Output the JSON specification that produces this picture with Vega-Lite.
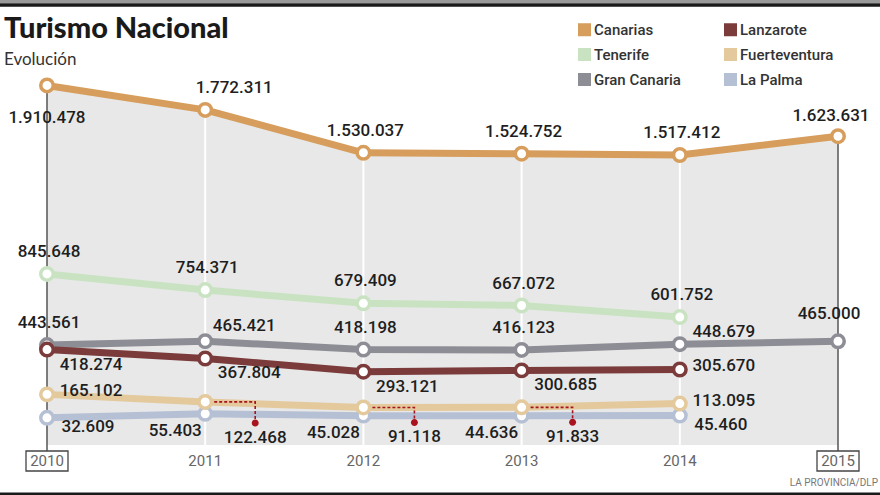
{
  "$schema": "https://vega.github.io/schema/vega-lite/v6.json",
  "width": 880,
  "height": 495,
  "autosize": {"type": "none"},
  "padding": 0,
  "background": "white",
  "config": {
    "view": {"stroke": null},
    "locale": {"number": {"decimal": ",", "thousands": ".", "grouping": [3], "currency": ["", " €"]}},
    "text": {"font": "Roboto", "fontSize": 17, "fontWeight": 500, "color": "#1e1e1e", "baseline": "middle", "align": "center"}
  },
  "title": {
    "text": "Turismo Nacional",
    "subtitle": "Evolución",
    "anchor": "start",
    "frame": "group",
    "offset": -68,
    "dx": 4,
    "font": "Lato",
    "fontSize": 29,
    "fontWeight": 900,
    "color": "#1a1a1a",
    "subtitleFont": "Lato",
    "subtitleFontSize": 17,
    "subtitleFontWeight": 400,
    "subtitleColor": "#333333",
    "subtitlePadding": 8
  },
  "data": {
    "values": [
      {"series": "La Palma", "year": 2010, "value": 32609},
      {"series": "La Palma", "year": 2011, "value": 55403},
      {"series": "La Palma", "year": 2012, "value": 45028},
      {"series": "La Palma", "year": 2013, "value": 44636},
      {"series": "La Palma", "year": 2014, "value": 45460},
      {"series": "Fuerteventura", "year": 2010, "value": 165102},
      {"series": "Fuerteventura", "year": 2011, "value": 122468},
      {"series": "Fuerteventura", "year": 2012, "value": 91118},
      {"series": "Fuerteventura", "year": 2013, "value": 91833},
      {"series": "Fuerteventura", "year": 2014, "value": 113095},
      {"series": "Gran Canaria", "year": 2010, "value": 443561},
      {"series": "Gran Canaria", "year": 2011, "value": 465421},
      {"series": "Gran Canaria", "year": 2012, "value": 418198},
      {"series": "Gran Canaria", "year": 2013, "value": 416123},
      {"series": "Gran Canaria", "year": 2014, "value": 448679},
      {"series": "Gran Canaria", "year": 2015, "value": 465000},
      {"series": "Lanzarote", "year": 2010, "value": 418274},
      {"series": "Lanzarote", "year": 2011, "value": 367804},
      {"series": "Lanzarote", "year": 2012, "value": 293121},
      {"series": "Lanzarote", "year": 2013, "value": 300685},
      {"series": "Lanzarote", "year": 2014, "value": 305670},
      {"series": "Tenerife", "year": 2010, "value": 845648},
      {"series": "Tenerife", "year": 2011, "value": 754371},
      {"series": "Tenerife", "year": 2012, "value": 679409},
      {"series": "Tenerife", "year": 2013, "value": 667072},
      {"series": "Tenerife", "year": 2014, "value": 601752},
      {"series": "Canarias", "year": 2010, "value": 1910478},
      {"series": "Canarias", "year": 2011, "value": 1772311},
      {"series": "Canarias", "year": 2012, "value": 1530037},
      {"series": "Canarias", "year": 2013, "value": 1524752},
      {"series": "Canarias", "year": 2014, "value": 1517412},
      {"series": "Canarias", "year": 2015, "value": 1623631}
    ]
  },
  "layer": [
    {
      "transform": [{"filter": "datum.series == 'Canarias'"}],
      "mark": {"type": "area", "color": "#e8e8e8", "opacity": 1},
      "encoding": {
        "x": {"field": "year", "type": "quantitative", "scale": {"domain": [2009.70291, 2015.26549], "nice": false, "zero": false}, "axis": null},
        "y": {"field": "value", "type": "quantitative", "scale": {"domain": [-403400, 2393200], "nice": false, "zero": false}, "axis": null},
        "y2": {"datum": -121000}
      }
    },
    {
      "transform": [{"filter": "datum.series == 'Canarias' && datum.year >= 2011 && datum.year <= 2014"}],
      "mark": {"type": "rule", "color": "white", "strokeWidth": 2},
      "encoding": {
        "x": {"field": "year", "type": "quantitative", "scale": {"domain": [2009.70291, 2015.26549], "nice": false, "zero": false}, "axis": null},
        "y": {"field": "value", "type": "quantitative", "scale": {"domain": [-403400, 2393200], "nice": false, "zero": false}, "axis": null},
        "y2": {"datum": -121000}
      }
    },
    {
      "transform": [{"filter": "datum.series == 'Canarias' && (datum.year == 2010 || datum.year == 2015)"}],
      "mark": {"type": "rule", "color": "#555555", "strokeWidth": 1.5},
      "encoding": {
        "x": {"field": "year", "type": "quantitative", "scale": {"domain": [2009.70291, 2015.26549], "nice": false, "zero": false}, "axis": null},
        "y": {"field": "value", "type": "quantitative", "scale": {"domain": [-403400, 2393200], "nice": false, "zero": false}, "axis": null},
        "y2": {"datum": -155000}
      }
    },
    {
      "data": {"values": [{}]},
      "mark": {"type": "rule", "color": "#9a9a9a", "strokeWidth": 3},
      "encoding": {"y": {"datum": 2384700, "type": "quantitative", "scale": {"domain": [-403400, 2393200], "nice": false, "zero": false}, "axis": null}}
    },
    {
      "data": {"values": [{}]},
      "mark": {"type": "rule", "color": "#1a1a1a", "strokeWidth": 3.5},
      "encoding": {"y": {"datum": 2365000, "type": "quantitative", "scale": {"domain": [-403400, 2393200], "nice": false, "zero": false}, "axis": null}}
    },
    {
      "data": {"values": [{}]},
      "mark": {"type": "rule", "color": "#1a1a1a", "strokeWidth": 3},
      "encoding": {"y": {"datum": -397700, "type": "quantitative", "scale": {"domain": [-403400, 2393200], "nice": false, "zero": false}, "axis": null}}
    },
    {
      "mark": {"type": "line", "strokeWidth": 7, "strokeJoin": "round"},
      "encoding": {
        "x": {"field": "year", "type": "quantitative", "scale": {"domain": [2009.70291, 2015.26549], "nice": false, "zero": false}, "axis": null},
        "y": {"field": "value", "type": "quantitative", "scale": {"domain": [-403400, 2393200], "nice": false, "zero": false}, "axis": null},
        "color": {
          "field": "series",
          "type": "nominal",
          "scale": {
            "domain": ["Canarias", "Tenerife", "Gran Canaria", "Lanzarote", "Fuerteventura", "La Palma"],
            "range": ["#d69d5c", "#c9e3c2", "#8d8d95", "#7b3b3b", "#e3c99c", "#b6c0d4"]
          },
          "legend": {
            "orient": "none",
            "legendX": 577,
            "legendY": 22,
            "columns": 2,
            "title": null,
            "padding": 0,
            "symbolType": "square",
            "symbolSize": 169,
            "symbolStrokeWidth": 0,
            "labelFont": "Roboto",
            "labelFontSize": 15,
            "labelFontWeight": 500,
            "labelColor": "#333333",
            "labelOffset": 2,
            "rowPadding": 9,
            "columnPadding": 42,
            "encode": {"symbols": {"update": {"fill": {"scale": "color", "field": "value"}, "stroke": {"value": "transparent"}, "strokeWidth": {"value": 0}, "opacity": {"value": 1}}}}
          }
        }
      }
    },
    {
      "mark": {"type": "point", "shape": "circle", "filled": true, "fill": "white", "size": 156, "strokeWidth": 3.5, "opacity": 1},
      "encoding": {
        "x": {"field": "year", "type": "quantitative", "scale": {"domain": [2009.70291, 2015.26549], "nice": false, "zero": false}, "axis": null},
        "y": {"field": "value", "type": "quantitative", "scale": {"domain": [-403400, 2393200], "nice": false, "zero": false}, "axis": null},
        "stroke": {
          "field": "series",
          "type": "nominal",
          "scale": {
            "domain": ["Canarias", "Tenerife", "Gran Canaria", "Lanzarote", "Fuerteventura", "La Palma"],
            "range": ["#d69d5c", "#c9e3c2", "#8d8d95", "#7b3b3b", "#e3c99c", "#b6c0d4"]
          },
          "legend": null
        }
      }
    },
    {
      "transform": [{"filter": "datum.series == 'Fuerteventura' && datum.year == 2011"}],
      "mark": {"type": "point", "shape": "M9,0H50V21", "size": 4, "filled": false, "color": "#a8141d", "strokeWidth": 1.6, "strokeDash": [3, 2], "opacity": 1},
      "encoding": {
        "x": {"field": "year", "type": "quantitative", "scale": {"domain": [2009.70291, 2015.26549], "nice": false, "zero": false}, "axis": null},
        "y": {"field": "value", "type": "quantitative", "scale": {"domain": [-403400, 2393200], "nice": false, "zero": false}, "axis": null}
      }
    },
    {
      "transform": [{"filter": "datum.series == 'Fuerteventura' && datum.year == 2011"}],
      "mark": {"type": "point", "shape": "M46.5,21a3.5,3.5 0 1,0 7,0a3.5,3.5 0 1,0 -7,0", "size": 4, "filled": true, "color": "#a8141d", "strokeWidth": 0, "opacity": 1},
      "encoding": {
        "x": {"field": "year", "type": "quantitative", "scale": {"domain": [2009.70291, 2015.26549], "nice": false, "zero": false}, "axis": null},
        "y": {"field": "value", "type": "quantitative", "scale": {"domain": [-403400, 2393200], "nice": false, "zero": false}, "axis": null}
      }
    },
    {
      "transform": [{"filter": "datum.series == 'Fuerteventura' && (datum.year == 2012 || datum.year == 2013)"}],
      "mark": {"type": "point", "shape": "M9,0H51V15", "size": 4, "filled": false, "color": "#a8141d", "strokeWidth": 1.6, "strokeDash": [3, 2], "opacity": 1},
      "encoding": {
        "x": {"field": "year", "type": "quantitative", "scale": {"domain": [2009.70291, 2015.26549], "nice": false, "zero": false}, "axis": null},
        "y": {"field": "value", "type": "quantitative", "scale": {"domain": [-403400, 2393200], "nice": false, "zero": false}, "axis": null}
      }
    },
    {
      "transform": [{"filter": "datum.series == 'Fuerteventura' && (datum.year == 2012 || datum.year == 2013)"}],
      "mark": {"type": "point", "shape": "M47.5,15a3.5,3.5 0 1,0 7,0a3.5,3.5 0 1,0 -7,0", "size": 4, "filled": true, "color": "#a8141d", "strokeWidth": 0, "opacity": 1},
      "encoding": {
        "x": {"field": "year", "type": "quantitative", "scale": {"domain": [2009.70291, 2015.26549], "nice": false, "zero": false}, "axis": null},
        "y": {"field": "value", "type": "quantitative", "scale": {"domain": [-403400, 2393200], "nice": false, "zero": false}, "axis": null}
      }
    },
    {
      "transform": [{"filter": "(datum.series == 'Canarias' && datum.year >= 2012 && datum.year <= 2014) || datum.series == 'Tenerife' || (datum.series == 'Gran Canaria' && (datum.year == 2010 || datum.year == 2012 || datum.year == 2013))"}],
      "mark": {"type": "text", "dx": 2, "dy": -22},
      "encoding": {
        "x": {"field": "year", "type": "quantitative", "scale": {"domain": [2009.70291, 2015.26549], "nice": false, "zero": false}, "axis": null},
        "y": {"field": "value", "type": "quantitative", "scale": {"domain": [-403400, 2393200], "nice": false, "zero": false}, "axis": null},
        "text": {"field": "value", "type": "quantitative", "format": ",d"}
      }
    },
    {
      "transform": [{"filter": "datum.series == 'Canarias' && datum.year == 2010"}],
      "mark": {"type": "text", "dx": 0, "dy": 33},
      "encoding": {
        "x": {"field": "year", "type": "quantitative", "scale": {"domain": [2009.70291, 2015.26549], "nice": false, "zero": false}, "axis": null},
        "y": {"field": "value", "type": "quantitative", "scale": {"domain": [-403400, 2393200], "nice": false, "zero": false}, "axis": null},
        "text": {"field": "value", "type": "quantitative", "format": ",d"}
      }
    },
    {
      "transform": [{"filter": "datum.series == 'Canarias' && datum.year == 2011"}],
      "mark": {"type": "text", "dx": 29, "dy": -22},
      "encoding": {
        "x": {"field": "year", "type": "quantitative", "scale": {"domain": [2009.70291, 2015.26549], "nice": false, "zero": false}, "axis": null},
        "y": {"field": "value", "type": "quantitative", "scale": {"domain": [-403400, 2393200], "nice": false, "zero": false}, "axis": null},
        "text": {"field": "value", "type": "quantitative", "format": ",d"}
      }
    },
    {
      "transform": [{"filter": "datum.series == 'Canarias' && datum.year == 2015"}],
      "mark": {"type": "text", "dx": -7, "dy": -20},
      "encoding": {
        "x": {"field": "year", "type": "quantitative", "scale": {"domain": [2009.70291, 2015.26549], "nice": false, "zero": false}, "axis": null},
        "y": {"field": "value", "type": "quantitative", "scale": {"domain": [-403400, 2393200], "nice": false, "zero": false}, "axis": null},
        "text": {"field": "value", "type": "quantitative", "format": ",d"}
      }
    },
    {
      "transform": [{"filter": "datum.series == 'Gran Canaria' && datum.year == 2015"}],
      "mark": {"type": "text", "dx": -9, "dy": -27},
      "encoding": {
        "x": {"field": "year", "type": "quantitative", "scale": {"domain": [2009.70291, 2015.26549], "nice": false, "zero": false}, "axis": null},
        "y": {"field": "value", "type": "quantitative", "scale": {"domain": [-403400, 2393200], "nice": false, "zero": false}, "axis": null},
        "text": {"field": "value", "type": "quantitative", "format": ",d"}
      }
    },
    {
      "transform": [{"filter": "datum.series == 'Gran Canaria' && datum.year == 2011"}],
      "mark": {"type": "text", "dx": 39, "dy": -15},
      "encoding": {
        "x": {"field": "year", "type": "quantitative", "scale": {"domain": [2009.70291, 2015.26549], "nice": false, "zero": false}, "axis": null},
        "y": {"field": "value", "type": "quantitative", "scale": {"domain": [-403400, 2393200], "nice": false, "zero": false}, "axis": null},
        "text": {"field": "value", "type": "quantitative", "format": ",d"}
      }
    },
    {
      "transform": [{"filter": "datum.series == 'Gran Canaria' && datum.year == 2014"}],
      "mark": {"type": "text", "dx": 44, "dy": -12},
      "encoding": {
        "x": {"field": "year", "type": "quantitative", "scale": {"domain": [2009.70291, 2015.26549], "nice": false, "zero": false}, "axis": null},
        "y": {"field": "value", "type": "quantitative", "scale": {"domain": [-403400, 2393200], "nice": false, "zero": false}, "axis": null},
        "text": {"field": "value", "type": "quantitative", "format": ",d"}
      }
    },
    {
      "transform": [{"filter": "datum.series == 'Lanzarote' && datum.year <= 2013"}],
      "mark": {"type": "text", "dx": 44, "dy": 15},
      "encoding": {
        "x": {"field": "year", "type": "quantitative", "scale": {"domain": [2009.70291, 2015.26549], "nice": false, "zero": false}, "axis": null},
        "y": {"field": "value", "type": "quantitative", "scale": {"domain": [-403400, 2393200], "nice": false, "zero": false}, "axis": null},
        "text": {"field": "value", "type": "quantitative", "format": ",d"}
      }
    },
    {
      "transform": [{"filter": "(datum.series == 'Lanzarote' && datum.year == 2014) || (datum.series == 'Fuerteventura' && (datum.year == 2010 || datum.year == 2014))"}],
      "mark": {"type": "text", "dx": 44, "dy": -3},
      "encoding": {
        "x": {"field": "year", "type": "quantitative", "scale": {"domain": [2009.70291, 2015.26549], "nice": false, "zero": false}, "axis": null},
        "y": {"field": "value", "type": "quantitative", "scale": {"domain": [-403400, 2393200], "nice": false, "zero": false}, "axis": null},
        "text": {"field": "value", "type": "quantitative", "format": ",d"}
      }
    },
    {
      "transform": [{"filter": "datum.series == 'La Palma' && (datum.year == 2010 || datum.year == 2014)"}],
      "mark": {"type": "text", "dx": 41, "dy": 9},
      "encoding": {
        "x": {"field": "year", "type": "quantitative", "scale": {"domain": [2009.70291, 2015.26549], "nice": false, "zero": false}, "axis": null},
        "y": {"field": "value", "type": "quantitative", "scale": {"domain": [-403400, 2393200], "nice": false, "zero": false}, "axis": null},
        "text": {"field": "value", "type": "quantitative", "format": ",d"}
      }
    },
    {
      "transform": [{"filter": "datum.series == 'La Palma' && datum.year >= 2011 && datum.year <= 2013"}],
      "mark": {"type": "text", "dx": -30, "dy": 17},
      "encoding": {
        "x": {"field": "year", "type": "quantitative", "scale": {"domain": [2009.70291, 2015.26549], "nice": false, "zero": false}, "axis": null},
        "y": {"field": "value", "type": "quantitative", "scale": {"domain": [-403400, 2393200], "nice": false, "zero": false}, "axis": null},
        "text": {"field": "value", "type": "quantitative", "format": ",d"}
      }
    },
    {
      "transform": [{"filter": "datum.series == 'Fuerteventura' && datum.year == 2011"}],
      "mark": {"type": "text", "dx": 50, "dy": 36},
      "encoding": {
        "x": {"field": "year", "type": "quantitative", "scale": {"domain": [2009.70291, 2015.26549], "nice": false, "zero": false}, "axis": null},
        "y": {"field": "value", "type": "quantitative", "scale": {"domain": [-403400, 2393200], "nice": false, "zero": false}, "axis": null},
        "text": {"field": "value", "type": "quantitative", "format": ",d"}
      }
    },
    {
      "transform": [{"filter": "datum.series == 'Fuerteventura' && (datum.year == 2012 || datum.year == 2013)"}],
      "mark": {"type": "text", "dx": 51, "dy": 30},
      "encoding": {
        "x": {"field": "year", "type": "quantitative", "scale": {"domain": [2009.70291, 2015.26549], "nice": false, "zero": false}, "axis": null},
        "y": {"field": "value", "type": "quantitative", "scale": {"domain": [-403400, 2393200], "nice": false, "zero": false}, "axis": null},
        "text": {"field": "value", "type": "quantitative", "format": ",d"}
      }
    },
    {
      "transform": [{"filter": "datum.series == 'Canarias'"}],
      "mark": {"type": "text", "font": "Roboto", "fontSize": 15, "fontWeight": 400, "color": "#666666"},
      "encoding": {
        "x": {"field": "year", "type": "quantitative", "scale": {"domain": [2009.70291, 2015.26549], "nice": false, "zero": false}, "axis": null},
        "y": {"datum": -211300, "type": "quantitative", "scale": {"domain": [-403400, 2393200], "nice": false, "zero": false}, "axis": null},
        "text": {"field": "year", "type": "quantitative", "format": "d"}
      }
    },
    {
      "transform": [{"filter": "datum.series == 'Canarias' && (datum.year == 2010 || datum.year == 2015)"}],
      "mark": {"type": "point", "shape": "M-21,-10H21V10H-21Z", "size": 4, "filled": false, "color": "#444444", "strokeWidth": 1.3, "opacity": 1},
      "encoding": {
        "x": {"field": "year", "type": "quantitative", "scale": {"domain": [2009.70291, 2015.26549], "nice": false, "zero": false}, "axis": null},
        "y": {"datum": -211300, "type": "quantitative", "scale": {"domain": [-403400, 2393200], "nice": false, "zero": false}, "axis": null}
      }
    },
    {
      "data": {"values": [{}]},
      "mark": {"type": "text", "text": "LA PROVINCIA/DLP", "align": "right", "font": "Roboto", "fontSize": 10, "fontWeight": 400, "color": "#777777"},
      "encoding": {
        "x": {"datum": 2015.2528, "type": "quantitative", "scale": {"domain": [2009.70291, 2015.26549], "nice": false, "zero": false}, "axis": null},
        "y": {"datum": -335600, "type": "quantitative", "scale": {"domain": [-403400, 2393200], "nice": false, "zero": false}, "axis": null}
      }
    }
  ]
}
